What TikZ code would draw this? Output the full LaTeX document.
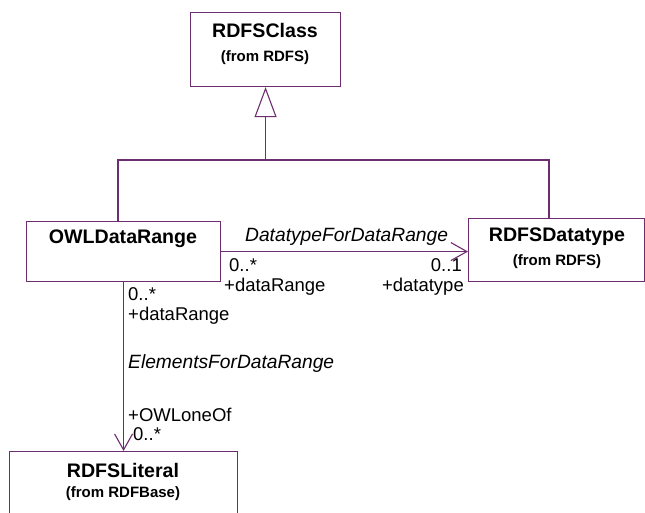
\documentclass[tikz,border=0pt]{standalone}
\usepackage{fontspec}
\setmainfont{Liberation Sans}
\usetikzlibrary{arrows.meta}
\definecolor{umlline}{RGB}{110,45,110}
\begin{document}
\begin{tikzpicture}[x=1pt,y=-1pt,
  cls/.style={draw=umlline, line width=1.1pt, fill=white, inner sep=0pt, anchor=north west},
  conn/.style={draw=umlline, line width=1.1pt},
  clsname/.style={font=\fontsize{19.6}{23}\selectfont\bfseries, inner sep=0pt},
  pkg/.style={font=\fontsize{15}{18}\selectfont\bfseries, inner sep=0pt},
  lbl/.style={font=\fontsize{18.5}{22}\selectfont, inner sep=0pt, anchor=west},
  ilbl/.style={font=\fontsize{19.2}{23}\selectfont\itshape, inner sep=0pt, anchor=west},
  gen/.style={-{Triangle[open, length=30pt, width=22pt]}},
  nav/.style={-{Straight Barb[length=16pt, width=18pt]}},
]
\useasboundingbox (0,0) rectangle (645,512);
% classes
\node[cls, minimum width=150, minimum height=74] (rdfsclass) at (190,12) {};
\node[cls, minimum width=194, minimum height=60] (owl) at (26,221) {};
\node[cls, minimum width=176, minimum height=63] (dt) at (468,218) {};
\node[cls, minimum width=228, minimum height=80] (lit) at (9,451) {};
% class texts
\node[clsname] (t1) at (265,30) {RDFSClass};
\node[pkg] (t1p) at (265,58) {(from RDFS)};
\node[clsname] (t2) at (123,239) {OWLDataRange};
\node[clsname] (t3) at (557,237) {RDFSDatatype};
\node[pkg] (t3p) at (557,262) {(from RDFS)};
\node[clsname] (t4) at (123,470) {RDFSLiteral};
\node[pkg] (t4p) at (123,494) {(from RDFBase)};
% generalization
\coordinate (jl) at (118,160);
\coordinate (jr) at (549,160);
\coordinate (jm) at (rdfsclass.south |- jl);
\draw[conn] (jl |- owl.north) -- (jl) -- (jr) -- (jr |- dt.north);
\draw[conn, gen] (jm) -- (rdfsclass.south);
% associations
\draw[conn, nav] (owl.east) -- (owl.east -| dt.west);
\draw[conn, nav] (owl.south) -- (owl.south |- lit.north);
% association labels
\node[ilbl] (a1) at (245,237) {DatatypeForDataRange};
\node[lbl] (a1m1) at (229,265) {0..*};
\node[lbl] (a1r1) at (224,287) {+dataRange};
\node[lbl, anchor=east] (a1m2) at (462,265) {0..1};
\node[lbl, anchor=east] (a1r2) at (464,287) {+datatype};
\node[lbl] (a2m1) at (128,294) {0..*};
\node[lbl] (a2r1) at (128,316) {+dataRange};
\node[ilbl] (a2) at (128,364) {ElementsForDataRange};
\node[lbl] (a2r2) at (128,415) {+OWLoneOf};
\node[lbl] (a2m2) at (133,434) {0..*};
\end{tikzpicture}
\end{document}
